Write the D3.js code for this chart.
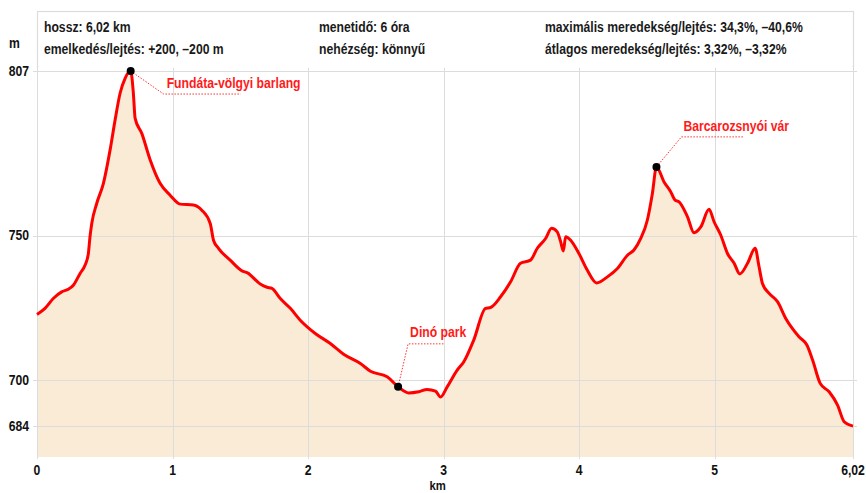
<!DOCTYPE html>
<html>
<head>
<meta charset="utf-8">
<script src="https://cdn.jsdelivr.net/npm/d3@7"></script>
<style>
  body { margin: 0; background: #fff; }
  svg text { font-family: "Liberation Sans", Arial, sans-serif; font-weight: bold; font-size: 14px; }
</style>
</head>
<body>
<div id="chart"></div>
<script>
// *** elevation profile (km, m)
var distKm = [0.000, 0.059, 0.120, 0.182, 0.231, 0.268, 0.318, 0.355, 0.379, 0.391,
    0.404, 0.441, 0.490, 0.539, 0.576, 0.613, 0.650, 0.691, 0.711, 0.724,
    0.773, 0.835, 0.908, 0.982, 1.056, 1.154, 1.216, 1.278, 1.302, 1.339,
    1.425, 1.512, 1.553, 1.647, 1.697, 1.733, 1.795, 1.869, 1.942, 2.053,
    2.164, 2.262, 2.386, 2.460, 2.583, 2.664, 2.742, 2.816, 2.878, 2.940,
    2.977, 3.026, 3.100, 3.149, 3.222, 3.309, 3.346, 3.420, 3.494, 3.567,
    3.641, 3.691, 3.752, 3.796, 3.838, 3.863, 3.883, 3.900, 3.937, 3.998,
    4.060, 4.129, 4.208, 4.282, 4.356, 4.404, 4.454, 4.503, 4.540, 4.570,
    4.626, 4.675, 4.707, 4.737, 4.799, 4.847, 4.897, 4.958, 4.995, 5.044,
    5.094, 5.143, 5.185, 5.242, 5.298, 5.327, 5.352, 5.401, 5.463, 5.524,
    5.623, 5.680, 5.722, 5.778, 5.844, 5.906, 5.955, 6.020];
var elevM = [722.7, 724.8, 728.2, 730.5, 731.4, 732.8, 736.9, 739.8, 743.8, 749.6,
    754.2, 761.2, 768.1, 779.6, 790.0, 799.3, 804.5, 807.0, 799.3, 790.6,
    785.4, 776.2, 768.1, 764.0, 760.9, 760.6, 758.8, 754.2, 748.4, 745.6,
    741.5, 737.8, 737.1, 733.2, 732.1, 731.7, 728.2, 724.8, 720.7, 716.1,
    712.6, 708.9, 705.7, 703.0, 701.1, 697.6, 695.5, 695.9, 696.7, 696.1,
    694.1, 697.6, 703.4, 706.3, 713.8, 724.8, 725.1, 728.8, 734.0, 740.4,
    741.5, 745.6, 749.0, 752.5, 751.3, 747.9, 744.7, 749.6, 748.4, 743.8,
    738.0, 733.6, 735.7, 738.6, 743.2, 745.0, 749.0, 755.4, 764.6, 773.8,
    768.6, 765.2, 762.3, 761.7, 756.5, 751.0, 753.0, 759.1, 754.8, 750.2,
    743.8, 740.4, 736.7, 740.4, 745.6, 739.2, 733.4, 730.0, 727.1, 721.3,
    714.9, 712.1, 706.9, 698.8, 695.9, 691.3, 685.5, 684.0];

// *** points of interest (index into the profile)
var poiNames = ["Fundáta-völgyi barlang", "Dinó park", "Barcarozsnyói vár"];
var poiIndex = [17, 45, 79];

// *** axis ticks
var xTickValues = [0, 1, 2, 3, 4, 5, 6.02];
var yTickValues = [684, 700, 750, 807];

// *** header texts
var headerCol1 = ["hossz: 6,02 km", "emelkedés/lejtés: +200, \u2013200 m"];
var headerCol2 = ["menetidő: 6 óra", "nehézség: könnyű"];
var headerCol3 = ["maximális meredekség/lejtés: 34,3%, \u201340,6%", "átlagos meredekség/lejtés: 3,32%, \u20133,32%"];

var data = distKm.map(function(d, i) { return {km: d, m: elevM[i]}; });

var W = 866, H = 493;
var plot = {left: 37, right: 853, top: 11, bottom: 457};
var narrow = 0.87; // the original font is a condensed one

var x = d3.scaleLinear().domain([0, 6.02]).range([plot.left, plot.right]);
var y = d3.scaleLinear().domain([673.3, 827.8]).range([plot.bottom, plot.top]);

var svg = d3.select("#chart").append("svg")
    .attr("width", W)
    .attr("height", H);

// condensed text helper
function label(px, py, str, anchor, fill, dy) {
    var g = svg.append("g").attr("transform", "translate(" + px + "," + py + ") scale(" + narrow + ",1)");
    return g.append("text")
        .attr("text-anchor", anchor || "start")
        .attr("dy", dy || 0)
        .attr("fill", fill || "#111")
        .text(str);
}

// area under the profile
var area = d3.area()
    .x(function(d) { return x(d.km); })
    .y0(plot.bottom)
    .y1(function(d) { return y(d.m); })
    .curve(d3.curveMonotoneX);

svg.append("path")
    .datum(data)
    .attr("d", area)
    .attr("fill", "#faebd7");

// grid
var grid = svg.append("g").attr("stroke", "#dcdcdc").attr("stroke-width", 1.2).attr("shape-rendering", "crispEdges");
grid.selectAll(".vgrid")
    .data(xTickValues)
    .enter().append("line")
    .attr("x1", function(d) { return Math.round(x(d)) + 0.5; })
    .attr("x2", function(d) { return Math.round(x(d)) + 0.5; })
    .attr("y1", plot.top)
    .attr("y2", plot.bottom + 2);
grid.selectAll(".hgrid")
    .data(yTickValues)
    .enter().append("line")
    .attr("x1", plot.left - 4)
    .attr("x2", plot.right + 4)
    .attr("y1", function(d) { return Math.round(y(d)) + 0.5; })
    .attr("y2", function(d) { return Math.round(y(d)) + 0.5; });

// profile line
var line = d3.line()
    .x(function(d) { return x(d.km); })
    .y(function(d) { return y(d.m); })
    .curve(d3.curveMonotoneX);

svg.append("path")
    .datum(data)
    .attr("d", line)
    .attr("fill", "none")
    .attr("stroke", "#ff0000")
    .attr("stroke-width", 3)
    .attr("stroke-linejoin", "round");

// header box
svg.append("rect")
    .attr("x", plot.left + 0.5)
    .attr("y", plot.top + 0.5)
    .attr("width", plot.right - plot.left)
    .attr("height", 55)
    .attr("fill", "#fff")
    .attr("stroke", "#dcdcdc")
    .attr("stroke-width", 1.2);
svg.append("rect")
    .attr("x", plot.left + 1.5)
    .attr("y", plot.top + 50)
    .attr("width", plot.right - plot.left - 2)
    .attr("height", 7)
    .attr("fill", "#fff");

var headerX = [44, 319, 545];
[headerCol1, headerCol2, headerCol3].forEach(function(col, c) {
    col.forEach(function(str, i) {
        label(headerX[c], 31.5 + i * 22, str, "start", "#1a1a1a");
    });
});

// y axis labels
yTickValues.forEach(function(d) {
    label(29, y(d), d, "end", "#111", "0.35em");
});
label(9, 48, "m");

// x axis labels
var fmt = function(d) { return Number.isInteger(d) ? String(d) : d.toFixed(2).replace(".", ","); };
xTickValues.forEach(function(d) {
    label(x(d), 475, fmt(d), "middle");
});
label(x(3) - 6, 490, "km", "middle").style("font-size", "13px");

// points of interest: leader elbow offset, horizontal length, label offset
var poiLayout = [
    {ex: 33, ey: 23, len: 77, tx: 36, ty: 17},
    {ex: 10, ey: -43, len: 36, tx: 12, ty: -50},
    {ex: 25, ey: -30, len: 62, tx: 27, ty: -36}
];

poiNames.forEach(function(name, i) {
    var p = data[poiIndex[i]];
    var px = x(p.km), py = y(p.m);
    var L = poiLayout[i];
    svg.append("polyline")
        .attr("points", [[px, py], [px + L.ex, py + L.ey], [px + L.ex + L.len, py + L.ey]].join(" "))
        .attr("fill", "none")
        .attr("stroke", "#ff3333")
        .attr("stroke-width", 1)
        .attr("stroke-dasharray", "1.5,1.5");
    svg.append("circle")
        .attr("cx", px)
        .attr("cy", py)
        .attr("r", 4)
        .attr("fill", "#000");
    label(px + L.tx, py + L.ty, name, "start", "#ff1a1a");
});
</script>
</body>
</html>
